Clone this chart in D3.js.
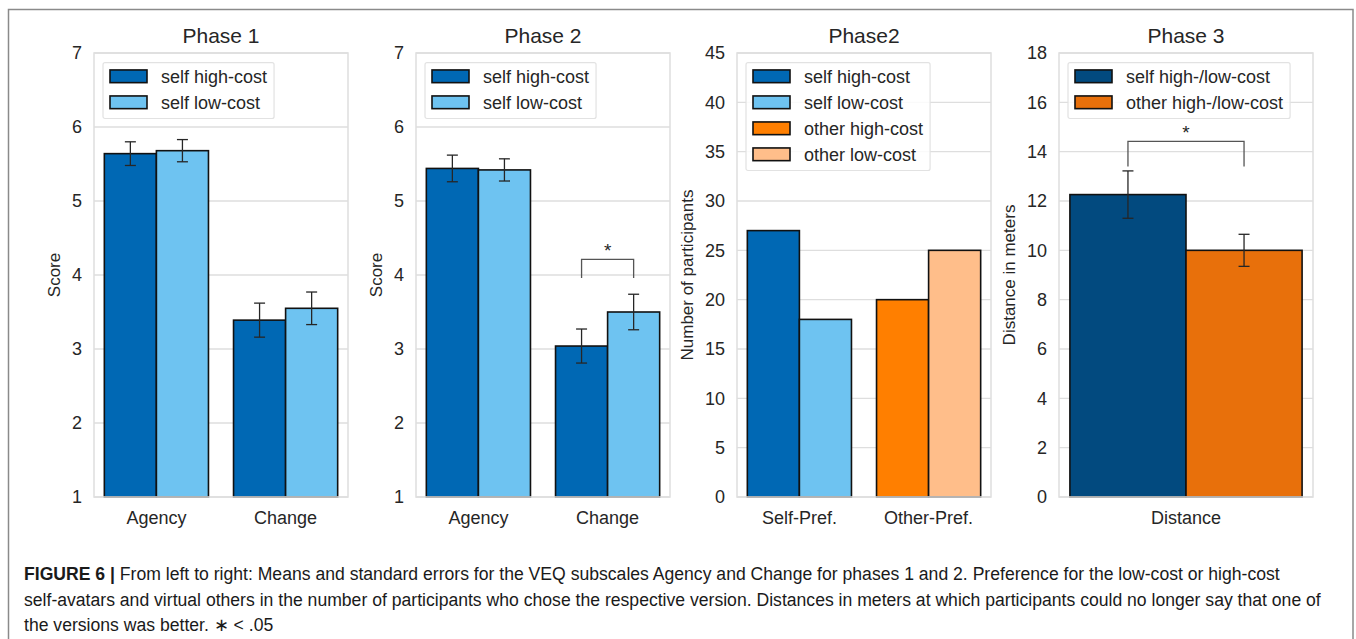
<!DOCTYPE html>
<html>
<head>
<meta charset="utf-8">
<script src="https://cdn.jsdelivr.net/npm/d3@7"></script>
<style>
  body { margin: 0; background: #fff; }
  svg { display: block; font-family: "Liberation Sans", Arial, Helvetica, sans-serif; }
</style>
</head>
<body>
<svg id="figure" width="1356" height="639"></svg>
<script>
// Data
const phaseCategories = ["Agency", "Change"];
const phase1High = [5.64, 3.39];
const phase1HighSE = [0.16, 0.23];
const phase1Low = [5.68, 3.55];
const phase1LowSE = [0.15, 0.22];
const phase2High = [5.44, 3.04];
const phase2HighSE = [0.18, 0.23];
const phase2Low = [5.42, 3.50];
const phase2LowSE = [0.15, 0.24];
const phase2Bracket = [3.96, 4.21];

const prefCategories = ["Self-Pref.", "Other-Pref."];
const prefHigh = [27, 20];
const prefLow = [18, 25];

const distCategories = ["Distance"];
const distSelf = [12.26];
const distSelfSE = [0.96];
const distOther = [10.0];
const distOtherSE = [0.65];
const distBracket = [13.4, 14.42];

const scoreTicks = [1, 2, 3, 4, 5, 6, 7];
const participantTicks = [0, 5, 10, 15, 20, 25, 30, 35, 40, 45];
const distanceTicks = [0, 2, 4, 6, 8, 10, 12, 14, 16, 18];

const captionLines = [
  "From left to right: Means and standard errors for the VEQ subscales Agency and Change for phases 1 and 2. Preference for the low-cost or high-cost",
  "self-avatars and virtual others in the number of participants who chose the respective version. Distances in meters at which participants could no longer say that one of",
  "the versions was better. \u2217 < .05"
];

// Colours
const SELF_HIGH = "#0068b4";
const SELF_LOW = "#6ec3f1";
const OTHER_HIGH = "#ff7f00";
const OTHER_LOW = "#ffbe8a";
const DIST_SELF = "#024a7f";
const DIST_OTHER = "#e8700b";
const TEXT = "#262626";
const GRID = "#dedede";

// Layout
const TOP = 53;
const H = 444;
const W = 254;
const ROW = 26;

const panels = [
  {
    title: "Phase 1", ylabel: "Score", left: 94, yDomain: [1, 7], ticks: scoreTicks,
    categories: phaseCategories, padInner: 0.194, padOuter: 0.08,
    series: [
      { values: phase1High, se: phase1HighSE, colors: [SELF_HIGH, SELF_HIGH] },
      { values: phase1Low, se: phase1LowSE, colors: [SELF_LOW, SELF_LOW] }
    ],
    legend: [["self high-cost", SELF_HIGH], ["self low-cost", SELF_LOW]]
  },
  {
    title: "Phase 2", ylabel: "Score", left: 416, yDomain: [1, 7], ticks: scoreTicks,
    categories: phaseCategories, padInner: 0.194, padOuter: 0.08,
    series: [
      { values: phase2High, se: phase2HighSE, colors: [SELF_HIGH, SELF_HIGH] },
      { values: phase2Low, se: phase2LowSE, colors: [SELF_LOW, SELF_LOW] }
    ],
    legend: [["self high-cost", SELF_HIGH], ["self low-cost", SELF_LOW]],
    bracket: { category: "Change", y: phase2Bracket }
  },
  {
    title: "Phase2", ylabel: "Number of participants", left: 737, yDomain: [0, 45], ticks: participantTicks,
    categories: prefCategories, padInner: 0.194, padOuter: 0.08,
    series: [
      { values: prefHigh, colors: [SELF_HIGH, OTHER_HIGH] },
      { values: prefLow, colors: [SELF_LOW, OTHER_LOW] }
    ],
    legend: [["self high-cost", SELF_HIGH], ["self low-cost", SELF_LOW],
             ["other high-cost", OTHER_HIGH], ["other low-cost", OTHER_LOW]]
  },
  {
    title: "Phase 3", ylabel: "Distance in meters", left: 1059, yDomain: [0, 18], ticks: distanceTicks,
    categories: distCategories, padInner: 0, padOuter: 0.047,
    series: [
      { values: distSelf, se: distSelfSE, colors: [DIST_SELF] },
      { values: distOther, se: distOtherSE, colors: [DIST_OTHER] }
    ],
    legend: [["self high-/low-cost", DIST_SELF], ["other high-/low-cost", DIST_OTHER]],
    bracket: { category: "Distance", y: distBracket }
  }
];

const svg = d3.select("#figure");

svg.append("rect").attr("width", 1356).attr("height", 639).attr("fill", "#fff");

// outer figure frame (open at the bottom)
svg.append("path")
  .attr("d", "M8.5,640V9.5H1353V640")
  .attr("fill", "none")
  .attr("stroke", "#8a8a8a")
  .attr("stroke-width", 1.5);

function drawPanel(p) {
  const g = svg.append("g").attr("transform", `translate(${p.left},${TOP})`);

  const y = d3.scaleLinear().domain(p.yDomain).range([H, 0]);
  const x0 = d3.scaleBand().domain(p.categories).range([0, W])
    .paddingInner(p.padInner).paddingOuter(p.padOuter);
  const x1 = d3.scaleBand().domain(d3.range(p.series.length)).range([0, x0.bandwidth()]);

  // gridlines
  g.append("g")
    .selectAll("line")
    .data(p.ticks)
    .join("line")
    .attr("x1", 0).attr("x2", W)
    .attr("y1", d => y(d)).attr("y2", d => y(d))
    .attr("stroke", GRID).attr("stroke-width", 1.3);

  // y axis labels
  const yAxis = g.append("g")
    .call(d3.axisLeft(y).tickValues(p.ticks).tickFormat(d3.format("d")).tickSize(0).tickPadding(12));
  yAxis.select(".domain").remove();
  yAxis.attr("font-family", null).attr("font-size", null);
  yAxis.selectAll("text").attr("font-size", 18).attr("fill", TEXT);

  // x axis labels
  const xAxis = g.append("g")
    .attr("transform", `translate(0,${H})`)
    .call(d3.axisBottom(x0).tickSize(0).tickPadding(14));
  xAxis.select(".domain").remove();
  xAxis.attr("font-family", null).attr("font-size", null);
  xAxis.selectAll("text").attr("font-size", 18).attr("fill", TEXT);

  // bars
  p.series.forEach((s, si) => {
    const bars = p.categories.map((c, ci) => ({
      c, v: s.values[ci], se: s.se ? s.se[ci] : null, color: s.colors[ci]
    }));
    g.append("g")
      .selectAll("rect")
      .data(bars)
      .join("rect")
      .attr("x", d => x0(d.c) + x1(si))
      .attr("y", d => y(d.v))
      .attr("width", x1.bandwidth())
      .attr("height", d => y(p.yDomain[0]) - y(d.v))
      .attr("fill", d => d.color)
      .attr("stroke", "#111")
      .attr("stroke-width", 1.6);

    // error bars
    const err = g.append("g")
      .attr("stroke", TEXT).attr("stroke-width", 1.3)
      .selectAll("g")
      .data(bars.filter(d => d.se !== null))
      .join("g")
      .attr("transform", d => `translate(${x0(d.c) + x1(si) + x1.bandwidth() / 2},0)`);
    err.append("line")
      .attr("y1", d => y(d.v - d.se)).attr("y2", d => y(d.v + d.se));
    err.append("line")
      .attr("x1", -5.5).attr("x2", 5.5)
      .attr("y1", d => y(d.v + d.se)).attr("y2", d => y(d.v + d.se));
    err.append("line")
      .attr("x1", -5.5).attr("x2", 5.5)
      .attr("y1", d => y(d.v - d.se)).attr("y2", d => y(d.v - d.se));
  });

  // plot frame
  g.append("rect")
    .attr("width", W).attr("height", H)
    .attr("fill", "none").attr("stroke", GRID).attr("stroke-width", 1.5);

  // title
  g.append("text")
    .attr("x", W / 2).attr("y", -10)
    .attr("text-anchor", "middle")
    .attr("font-size", 21).attr("fill", TEXT)
    .text(p.title);

  // y label, placed left of widest tick label
  const tickW = d3.max(yAxis.selectAll("text").nodes(), n => n.getComputedTextLength());
  g.append("text")
    .attr("transform", `translate(${-(12 + tickW + 12)},${H / 2}) rotate(-90)`)
    .attr("text-anchor", "middle")
    .attr("font-size", 17).attr("fill", TEXT)
    .text(p.ylabel);

  // legend
  const lg = g.append("g").attr("transform", "translate(9,9.7)");
  const box = lg.append("rect")
    .attr("rx", 2)
    .attr("fill", "#fff").attr("fill-opacity", 0.85)
    .attr("stroke", "#e2e2e2").attr("stroke-width", 1.2);
  const rows = lg.selectAll("g.row")
    .data(p.legend)
    .join("g")
    .attr("class", "row")
    .attr("transform", (d, i) => `translate(0,${13.6 + i * ROW})`);
  rows.append("rect")
    .attr("x", 7).attr("y", -6.35)
    .attr("width", 37).attr("height", 12.7)
    .attr("fill", d => d[1])
    .attr("stroke", "#111").attr("stroke-width", 1.6);
  const labels = rows.append("text")
    .attr("x", 58).attr("dy", "0.35em")
    .attr("font-size", 18).attr("fill", TEXT)
    .text(d => d[0]);
  const textW = d3.max(labels.nodes(), n => n.getComputedTextLength());
  box.attr("width", 58 + textW + 7)
    .attr("height", 29.8 + (p.legend.length - 1) * ROW);

  // significance bracket
  if (p.bracket) {
    const cx = d3.range(p.series.length)
      .map(si => x0(p.bracket.category) + x1(si) + x1.bandwidth() / 2);
    const [lo, hi] = p.bracket.y;
    g.append("path")
      .attr("d", `M${cx[0]},${y(lo)}V${y(hi)}H${cx[1]}V${y(lo)}`)
      .attr("fill", "none").attr("stroke", "#555").attr("stroke-width", 1.3);
    g.append("text")
      .attr("x", (cx[0] + cx[1]) / 2).attr("y", y(hi) - 2)
      .attr("text-anchor", "middle")
      .attr("font-size", 19).attr("fill", TEXT)
      .text("*");
  }
}

panels.forEach(drawPanel);

// caption
const cap = svg.append("g").attr("font-size", 17.6).attr("fill", "#1a1a1a");
captionLines.forEach((line, i) => {
  const t = cap.append("text").attr("x", 24).attr("y", 580 + i * 25.5);
  if (i === 0) {
    t.append("tspan").attr("font-weight", "bold").text("FIGURE 6 | ");
  }
  t.append("tspan").text(line);
});
</script>
</body>
</html>
